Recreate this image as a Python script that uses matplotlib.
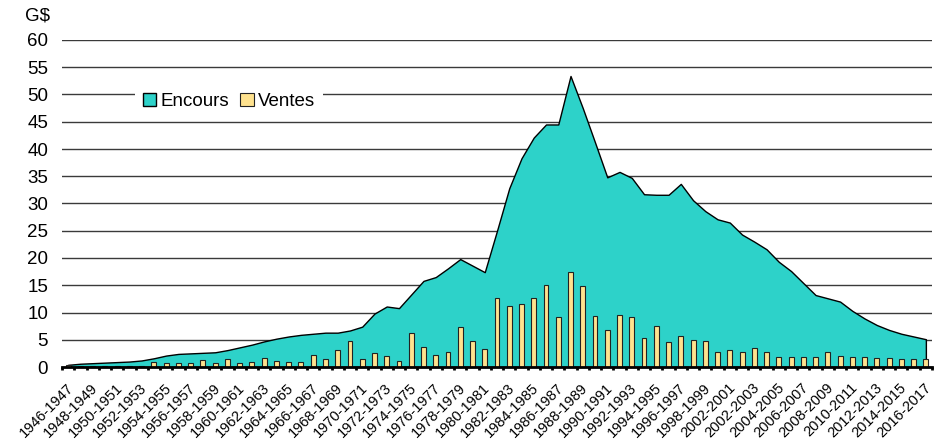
import matplotlib
matplotlib.use("Agg")
import matplotlib.pyplot as plt
import matplotlib.transforms as mtransforms
import numpy as np

plt.rcParams["font.family"] = ["Liberation Sans", "DejaVu Sans"]

# Fiscal years 1946-1947 .. 2016-2017
years = [f"{y}-{y + 1}" for y in range(1946, 2017)]

# Outstanding stock (G$)
encours = [
    0.4, 0.6, 0.7, 0.8, 0.9, 1.0, 1.2, 1.6, 2.1, 2.4,
    2.5, 2.6, 2.7, 3.1, 3.6, 4.1, 4.7, 5.2, 5.6, 5.9,
    6.1, 6.3, 6.3, 6.7, 7.4, 9.8, 11.1, 10.8, 13.3, 15.8,
    16.5, 18.1, 19.8, 18.6, 17.4, 25.0, 32.8, 38.3, 42.1, 44.5,
    44.5, 53.4, 47.5, 41.2, 34.8, 35.8, 34.7, 31.7, 31.6, 31.6,
    33.6, 30.6, 28.6, 27.1, 26.5, 24.3, 23.0, 21.6, 19.3, 17.6,
    15.4, 13.2, 12.6, 12.0, 10.3, 8.9, 7.7, 6.8, 6.1, 5.6,
    5.1,
]

# Gross sales (G$)
ventes = [
    0.3, 0.1, 0.1, 0.1, 0.15, 0.1, 0.15, 0.85, 0.8, 0.65,
    0.8, 1.2, 0.8, 1.4, 0.8, 0.9, 1.6, 1.05, 1.0, 0.85,
    2.2, 1.4, 3.2, 4.7, 1.45, 2.6, 2.0, 1.05, 6.2, 3.7,
    2.2, 2.7, 7.3, 4.8, 3.3, 12.7, 11.2, 11.5, 12.7, 15.0,
    9.2, 17.4, 14.9, 9.3, 6.7, 9.5, 9.2, 5.3, 7.5, 4.6,
    5.7, 4.9, 4.8, 2.7, 3.2, 2.75, 3.5, 2.8, 1.9, 1.8,
    1.8, 1.9, 2.8, 2.0, 1.9, 1.75, 1.7, 1.65, 1.55, 1.5,
    1.45,
]

tick_labels = [
    "1946-1947", "1948-1949", "1950-1951", "1952-1953", "1954-1955",
    "1956-1957", "1958-1959", "1960-1961", "1962-1963", "1964-1965",
    "1966-1967", "1968-1969", "1970-1971", "1972-1973", "1974-1975",
    "1976-1977", "1978-1979", "1980-1981", "1982-1983", "1984-1985",
    "1986-1987", "1988-1989", "1990-1991", "1992-1993", "1994-1995",
    "1996-1997", "1998-1999", "2002-2001", "2002-2003", "2004-2005",
    "2006-2007", "2008-2009", "2010-2011", "2012-2013", "2014-2015",
    "2016-2017",
]

teal = "#2dd2c9"
sand = "#ffe28e"

fig = plt.figure(figsize=(9.35, 4.4), dpi=100)
ax = fig.add_axes([62 / 935, 1 - 367 / 440, 870 / 935, 327 / 440])

x = np.arange(len(years))

ax.fill_between(x, encours, 0, facecolor=teal, edgecolor="black",
                linewidth=1.0, zorder=2, label="Encours")
ax.bar(x, ventes, width=0.4, color=sand, edgecolor="#222222",
       linewidth=0.8, zorder=3, label="Ventes")

ax.set_xlim(-0.5, len(years) - 0.5)
ax.set_ylim(0, 60)
ax.set_yticks(np.arange(0, 61, 5))
ax.yaxis.grid(True, color="#3a3a3a", linewidth=1.0, zorder=0)
ax.set_axisbelow(True)

for side in ("left", "right", "top"):
    ax.spines[side].set_visible(False)
ax.spines["bottom"].set_linewidth(2.0)
ax.spines["bottom"].set_zorder(4)

ax.tick_params(axis="y", length=0, pad=10, labelsize=13.5)

ax.set_xticks(x[::2])
ax.set_xticklabels(tick_labels, rotation=45, ha="right", va="center",
                   rotation_mode="anchor", fontsize=10.5)
ax.set_xticks(np.arange(-0.5, len(years)), minor=True)
ax.tick_params(axis="x", which="major", length=0, pad=12)
ax.tick_params(axis="x", which="minor", length=2.5, width=2.0,
               color="black", direction="out")

# nudge the slanted year labels a little to the right and down
shift = mtransforms.ScaledTranslation(3 / 100, -2 / 100, fig.dpi_scale_trans)
for lbl in ax.get_xticklabels():
    lbl.set_transform(lbl.get_transform() + shift)

fig.text(37 / 935, 1 - 16 / 440, "G$", ha="center", va="center",
         fontsize=13.5)

leg = ax.legend(loc="center", bbox_to_anchor=(0.192, 0.813), ncol=2,
                frameon=True, framealpha=1.0, fontsize=13.5,
                handlelength=0.7, handleheight=0.7, handletextpad=0.25,
                columnspacing=0.6, borderpad=0.4, borderaxespad=0)
leg.get_frame().set_edgecolor("white")
leg.get_frame().set_linewidth(0)
leg.set_zorder(5)

fig.savefig("out.png", dpi=100)
